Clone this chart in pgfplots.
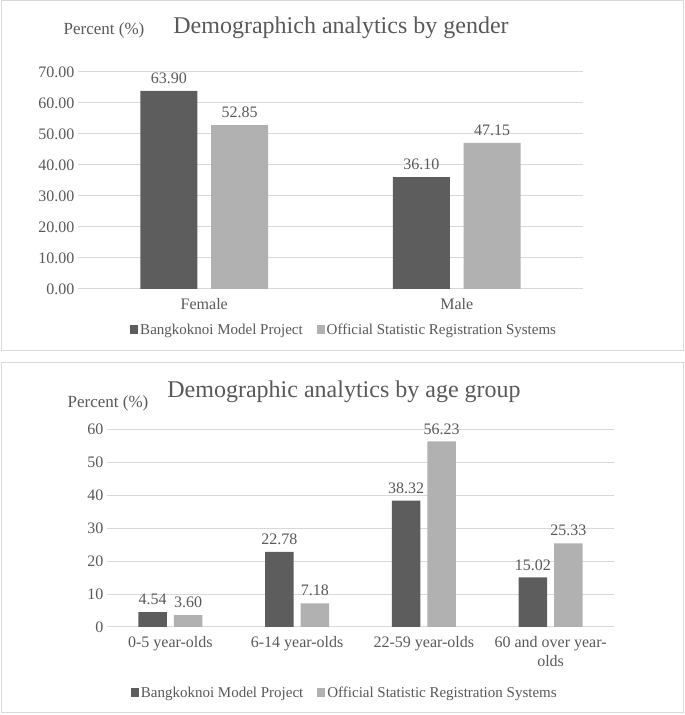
\documentclass[border=0pt]{standalone}
\usepackage{fontspec}
\setmainfont{Liberation Serif}
\usepackage{pgfplots}
\pgfplotsset{compat=1.18}

\definecolor{darkbar}{HTML}{5D5D5D}
\definecolor{lightbar}{HTML}{B1B1B1}
\definecolor{txt}{HTML}{595959}
\definecolor{gridc}{HTML}{D9D9D9}

\newcommand{\lbl}{\fontsize{16}{19}\selectfont}
\newcommand{\leg}{\fontsize{15}{18}\selectfont}
\newcommand{\ttl}{\fontsize{24}{28}\selectfont}

\pgfplotsset{
  panel/.style={
    scale only axis,
    ybar,
    bar width=0.225,
    ymin=0,
    xmin=-0.5, xmax=1.5,
    xtick=data,
    axis line style={draw=none},
    major tick length=0pt,
    ymajorgrids,
    grid style={gridc, line width=1pt},
    tick label style={font=\lbl, text=txt},
    xticklabel style={yshift=-6pt},
    /pgf/number format/assume math mode=true,
    nodes near coords={\pgfmathprintnumber[fixed,fixed zerofill,precision=2,assume math mode=true]{\pgfplotspointmeta}},
    nodes near coords style={font=\lbl, text=txt, inner sep=4pt, yshift=3pt},
    legend columns=2,
    legend style={draw=none, font=\leg, text=txt,
      /tikz/every even column/.append style={column sep=12pt}},
    legend image code/.code={\fill[##1] (0pt,-4pt) rectangle (8pt,5pt);},
  },
}

\begin{document}
\begin{tikzpicture}
\path (0pt,0pt) rectangle (685pt,715pt);
\draw[gridc, line width=1pt] (1pt,364pt) rectangle (683pt,714pt);
\draw[gridc, line width=1pt] (1pt,2pt) rectangle (683pt,352pt);

\node[text=txt, font=\ttl] at (341pt,687pt) {Demographich analytics by gender};
\node[text=txt, font=\fontsize{17}{20}\selectfont] at (104pt,685pt) {Percent (\%)};

\begin{axis}[panel,
  at={(78pt,426pt)}, anchor=south west,
  width=505pt, height=217pt,
  ymax=70, ytick={0,10,...,70},
  yticklabel style={/pgf/number format/.cd, fixed, fixed zerofill, precision=2},
  xticklabels={Female, Male},
  legend style={at={(0.527,-0.189)}, anchor=center},
]
\addplot[fill=darkbar, draw=none, bar shift=-0.14] coordinates {(0,63.90) (1,36.10)};
\addlegendentry{Bangkoknoi Model Project}
\addplot[fill=lightbar, draw=none, bar shift=0.14] coordinates {(0,52.85) (1,47.15)};
\addlegendentry{Official Statistic Registration Systems}
\end{axis}

\node[text=txt, font=\ttl] at (344pt,323pt) {Demographic analytics by age group};
\node[text=txt, font=\fontsize{17}{20}\selectfont] at (108pt,312pt) {Percent (\%)};

\begin{axis}[panel,
  at={(107pt,88pt)}, anchor=south west,
  width=507pt, height=198pt,
  xmin=-0.5, xmax=3.5,
  ymax=60, ytick={0,10,...,60},
  xticklabels={0-5 year-olds, 6-14 year-olds, 22-59 year-olds, {60 and over year-\\olds}},
  xticklabel style={align=center},
  legend style={at={(0.469,-0.333)}, anchor=center},
]
\addplot[fill=darkbar, draw=none, bar shift=-0.14] coordinates {(0,4.54) (1,22.78) (2,38.32) (3,15.02)};
\addlegendentry{Bangkoknoi Model Project}
\addplot[fill=lightbar, draw=none, bar shift=0.14] coordinates {(0,3.60) (1,7.18) (2,56.23) (3,25.33)};
\addlegendentry{Official Statistic Registration Systems}
\end{axis}
\end{tikzpicture}
\end{document}
